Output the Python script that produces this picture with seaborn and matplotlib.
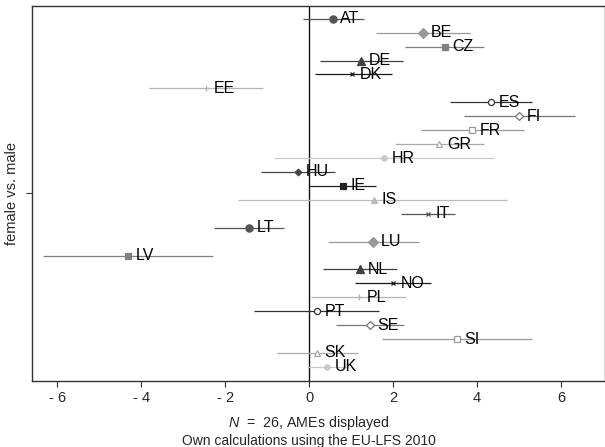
import matplotlib
matplotlib.use("Agg")
import matplotlib.pyplot as plt
import seaborn as sns
import pandas as pd

countries = ['AT', 'BE', 'CZ', 'DE', 'DK', 'EE', 'ES', 'FI', 'FR', 'GR', 'HR', 'HU', 'IE',
             'IS', 'IT', 'LT', 'LU', 'LV', 'NL', 'NO', 'PL', 'PT', 'SE', 'SI', 'SK', 'UK']
ame = [0.56, 2.72, 3.23, 1.24, 1.03, -2.45, 4.33, 5.01, 3.88, 3.10, 1.78, -0.27, 0.81,
       1.55, 2.83, -1.43, 1.53, -4.32, 1.21, 1.99, 1.19, 0.18, 1.44, 3.52, 0.19, 0.42]
ci_lo = [-0.14, 1.60, 2.29, 0.26, 0.14, -3.81, 3.36, 3.69, 2.67, 2.05, -0.83, -1.14, 0.00,
         -1.70, 2.18, -2.26, 0.46, -6.34, 0.33, 1.10, 0.05, -1.31, 0.64, 1.73, -0.77, -0.05]
ci_hi = [1.31, 3.83, 4.16, 2.23, 1.98, -1.10, 5.31, 6.33, 5.11, 4.17, 4.40, 0.62, 1.60,
         4.71, 3.48, -0.60, 2.62, -2.29, 2.09, 2.90, 2.31, 1.67, 2.25, 5.31, 1.17, 0.89]
xtick_vals = [-6, -4, -2, 0, 2, 4, 6]
xtick_labels = ['- 6', '- 4', '- 2', '0', '2', '4', '6']
note_lines = ['$N$  =  26, AMEs displayed', 'Own calculations using the EU-LFS 2010']

# stata-like mono cycle of 15 styles: marker, size, colour, filled
styles = [('o', 5.2, '#555555', True), ('D', 4.6, '#999999', True), ('s', 4.8, '#808080', True),
          ('^', 5.2, '#404040', True), ('x', 3.0, '#1a1a1a', True), ('+', 4.0, '#b4b4b4', True),
          ('o', 4.4, '#333333', False), ('D', 4.4, '#777777', False), ('s', 4.4, '#999999', False),
          ('^', 4.8, '#aaaaaa', False), ('o', 3.8, '#c8c8c8', True), ('D', 3.4, '#444444', True),
          ('s', 3.8, '#222222', True), ('^', 3.8, '#bbbbbb', True), ('x', 2.4, '#555555', True)]

df = pd.DataFrame({'country': countries, 'ame': ame, 'lo': ci_lo, 'hi': ci_hi})
df['pos'] = range(len(df))

sns.set_style("ticks")
plt.rcParams['font.family'] = ['Liberation Sans', 'DejaVu Sans']
plt.rcParams['mathtext.fontset'] = 'custom'
plt.rcParams['mathtext.it'] = 'Liberation Sans:italic'

fig = plt.figure(figsize=(6.05, 4.47), dpi=100)
ax = fig.add_axes([0.053, 0.148, 0.947, 0.839])

ax.axvline(0, color='#111111', lw=1.0, zorder=1)

for i, r in df.iterrows():
    m, ms, c, filled = styles[i % 15]
    ax.hlines(r['pos'], r['lo'], r['hi'], color=c, lw=0.9, zorder=2)
    ax.plot(r['ame'], r['pos'], marker=m, ms=ms, color=c,
            mfc=c if filled else 'white', mec=c, mew=0.9, zorder=3, ls='none')
    ax.annotate(r['country'], (r['ame'], r['pos']), xytext=(5.5, 0), textcoords='offset points',
                ha='left', va='center', fontsize=11.5, color='black', zorder=4)

ax.set_xlim(-6.6, 7.05)
ax.set_ylim(26.0, -0.93)
ax.set_xticks(xtick_vals)
ax.set_xticklabels(xtick_labels, fontsize=10.5)
ax.set_yticks([12.5])
ax.set_yticklabels([''])
ax.set_ylabel('female vs. male', fontsize=10.5, labelpad=2)
ax.tick_params(direction='out', length=4, width=0.8, color='#333333')
for s in ax.spines.values():
    s.set_color('#333333')
    s.set_linewidth(1.0)

fig.text(0.511, 0.0537, note_lines[0], ha='center', va='center', fontsize=10.3)
fig.text(0.511, 0.0134, note_lines[1], ha='center', va='center', fontsize=10.0)

fig.savefig('out.png', dpi=100)
